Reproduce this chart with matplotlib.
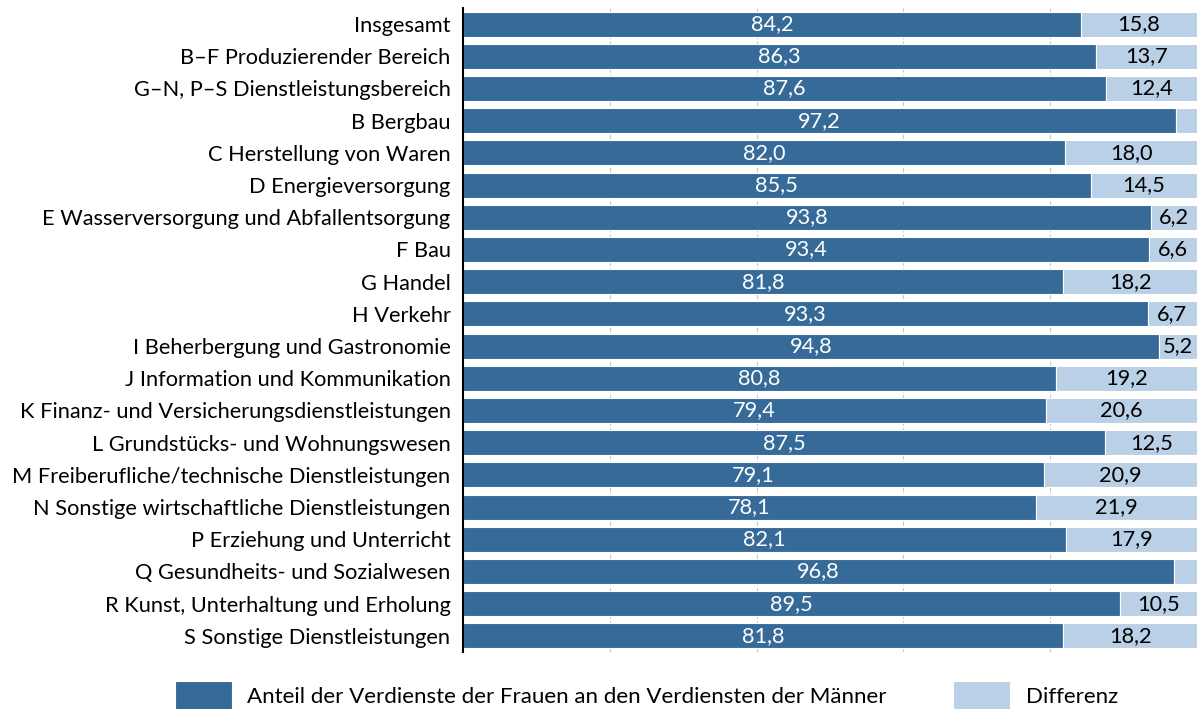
import matplotlib.pyplot as plt
import numpy as np

categories = [
    "Insgesamt",
    "B–F Produzierender Bereich",
    "G–N, P–S Dienstleistungsbereich",
    "B Bergbau",
    "C Herstellung von Waren",
    "D Energieversorgung",
    "E Wasserversorgung und Abfallentsorgung",
    "F Bau",
    "G Handel",
    "H Verkehr",
    "I Beherbergung und Gastronomie",
    "J Information und Kommunikation",
    "K Finanz- und Versicherungsdienstleistungen",
    "L Grundstücks- und Wohnungswesen",
    "M Freiberufliche/technische Dienstleistungen",
    "N Sonstige wirtschaftliche Dienstleistungen",
    "P Erziehung und Unterricht",
    "Q Gesundheits- und Sozialwesen",
    "R Kunst, Unterhaltung und Erholung",
    "S Sonstige Dienstleistungen",
]
anteil = [84.2, 86.3, 87.6, 97.2, 82.0, 85.5, 93.8, 93.4, 81.8, 93.3,
          94.8, 80.8, 79.4, 87.5, 79.1, 78.1, 82.1, 96.8, 89.5, 81.8]
differenz = [15.8, 13.7, 12.4, 2.8, 18.0, 14.5, 6.2, 6.6, 18.2, 6.7,
             5.2, 19.2, 20.6, 12.5, 20.9, 21.9, 17.9, 3.2, 10.5, 18.2]

dark = '#366a98'
light = '#b9d0e6'

plt.rcParams['font.family'] = ['Lato', 'DejaVu Sans']

fig = plt.figure(figsize=(11.97, 7.09), dpi=100)
ax = fig.add_axes([463 / 1197, 1 - 652 / 709, 734 / 1197, 644 / 709])

y = np.arange(len(categories))
ax.barh(y, anteil, height=0.78, color=dark, edgecolor='white', linewidth=0.8,
        label='Anteil der Verdienste der Frauen an den Verdiensten der Männer', zorder=2)
ax.barh(y, differenz, left=anteil, height=0.78, color=light, edgecolor='white',
        linewidth=0.8, label='Differenz', zorder=2)

fmt = lambda v: f"{v:.1f}".replace('.', ',')
for i in range(len(categories)):
    ax.text(anteil[i] / 2, i, fmt(anteil[i]), ha='center', va='center',
            color='white', fontsize=15.7, zorder=3)
    if differenz[i] >= 5:
        ax.text(anteil[i] + differenz[i] / 2, i, fmt(differenz[i]), ha='center',
                va='center', color='black', fontsize=15.7, zorder=3)

ax.set_xlim(0, 100)
ax.set_ylim(len(categories) - 0.5, -0.5)
ax.set_yticks(y)
ax.set_yticklabels(categories, fontsize=15.7)
ax.set_xticks([20, 40, 60, 80])
ax.set_xticklabels([])
ax.tick_params(axis='y', length=0, pad=9)
ax.tick_params(axis='x', length=0)
ax.grid(axis='x', color='#c8c8c8', linestyle=(0, (4, 2)), linewidth=0.8, zorder=0)
for s in ['top', 'right', 'bottom']:
    ax.spines[s].set_visible(False)
ax.spines['left'].set_linewidth(1.5)
ax.spines['left'].set_zorder(4)

fig.legend(loc='center left', bbox_to_anchor=(175 / 1197, 1 - 696 / 709), ncol=2,
           frameon=False, fontsize=16, handlelength=2.57, handleheight=1.7,
           columnspacing=3.0, handletextpad=0.68, borderpad=0, borderaxespad=0)

plt.savefig('out.png', dpi=100)
